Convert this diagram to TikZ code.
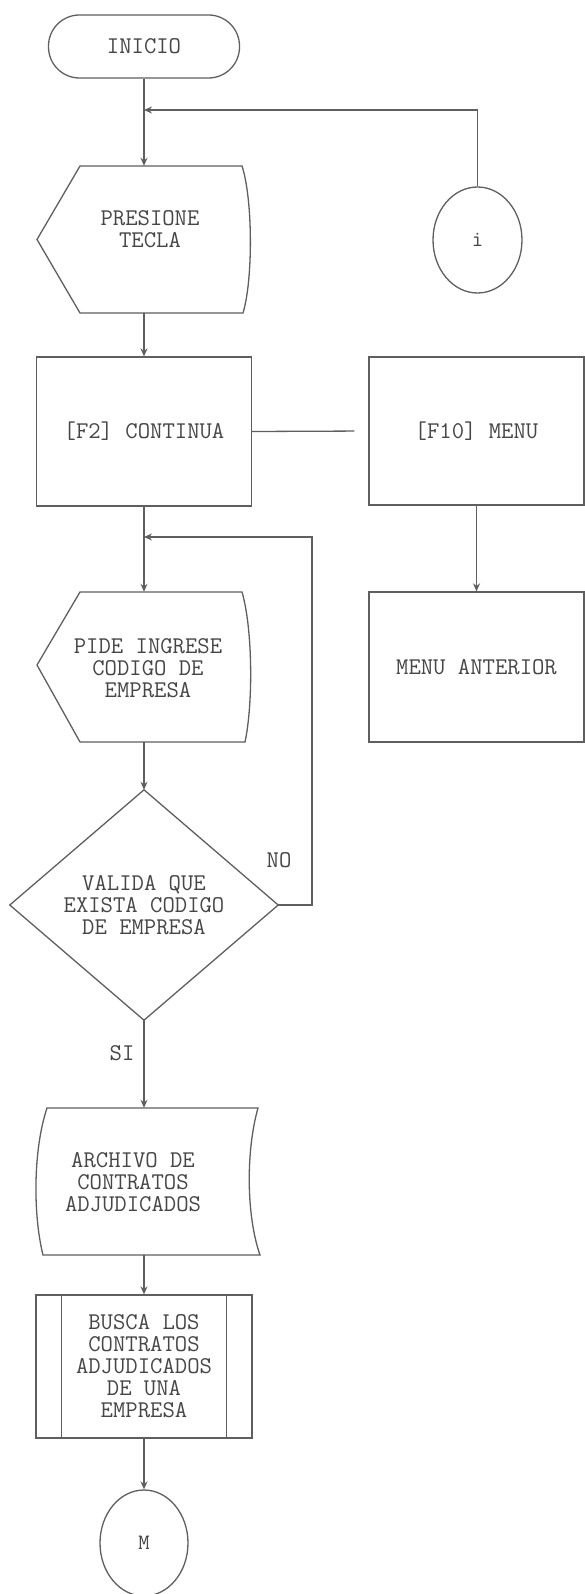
\documentclass[tikz,border=0pt]{standalone}
\usepackage{fontspec}
\newcommand\dotfont{\ttfamily\addfontfeatures{FakeStretch=0.98,FakeBold=2.5}}
\usetikzlibrary{arrows.meta,shapes.geometric}
\definecolor{lc}{RGB}{95,95,95}
\definecolor{tc}{RGB}{70,70,70}
\begin{document}
\begin{tikzpicture}[x=1pt,y=-1pt,
  txt/.style={font=\fontsize{24}{22}\selectfont\dotfont, text=tc, align=center, inner sep=0pt},
  small/.style={font=\fontsize{22}{22}\selectfont\dotfont, text=tc, inner sep=0pt},
  frame/.style={draw=lc, line width=1.3pt},
  ln/.style={draw=lc, line width=1.3pt},
  arr/.style={draw=lc, line width=1.3pt, -{Stealth[length=8pt,width=7pt]}},
  holder/.style={inner sep=0pt, draw=none}]
\useasboundingbox (0,0) rectangle (585,1594);
\fill[white] (0,0) rectangle (585,1594);

% start
\node[txt, frame, rounded corners=31pt, minimum width=191pt, minimum height=63pt] (inicio) at (144,46.5) {INICIO};

% display: presione tecla
\node[holder, minimum width=216pt, minimum height=147pt] (pres) at (144,239.5) {};
\draw[frame] (37,239.5) -- (80,166) -- (242,166) .. controls (253,200) and (253,280) .. (243,313) -- (80,313) -- cycle;
\node[txt] (prest) at (150,229) {PRESIONE\\TECLA};

% connector i
\node[ellipse, frame, small, minimum width=89pt, minimum height=106pt] (ci) at (477.5,240) {i};

% process boxes
\node[txt, frame, minimum width=215pt, minimum height=149pt] (f2) at (144,431.5) {[F2] CONTINUA};
\node[txt, frame, minimum width=215pt, minimum height=148pt] (f10) at (476.5,431) {[F10] MENU};
\node[txt, frame, minimum width=215pt, minimum height=150pt] (menu) at (476.5,667) {MENU ANTERIOR};

% display: pide ingrese
\node[holder, minimum width=216pt, minimum height=150pt] (pide) at (144,667) {};
\draw[frame] (37,665) -- (80,592) -- (242,592) .. controls (253,630) and (253,705) .. (245,742) -- (80,742) -- cycle;
\node[txt] (pidet) at (148,668) {PIDE INGRESE\\CODIGO DE\\EMPRESA};

% decision
\node[txt, minimum width=268pt, minimum height=230pt] (dia) at (144,905) {VALIDA QUE\\EXISTA CODIGO\\DE EMPRESA};
\draw[frame] (dia.north) -- (dia.east) -- (dia.south) -- (dia.west) -- cycle;
\node[txt] (no) at (279,860) {NO};
\node[txt] (si) at (122,1053) {SI};

% stored data
\node[holder, minimum width=214pt, minimum height=147pt] (arch) at (144,1181.5) {};
\draw[frame] (47,1108) -- (258,1108) .. controls (246,1150) and (246,1215) .. (260,1255) -- (43,1255) .. controls (33,1215) and (33,1150) .. (47,1108) -- cycle;
\node[txt] (archt) at (133,1182) {ARCHIVO DE\\CONTRATOS\\ADJUDICADOS};

% predefined process
\node[txt, frame, minimum width=216pt, minimum height=143pt] (busca) at (144,1366.5) {BUSCA LOS\\CONTRATOS\\ADJUDICADOS\\DE UNA\\EMPRESA};
\draw[ln] ([xshift=26pt]busca.north west) -- ([xshift=26pt]busca.south west);
\draw[ln] ([xshift=-26pt]busca.north east) -- ([xshift=-26pt]busca.south east);

% connector M
\node[ellipse, frame, small, minimum width=88pt, minimum height=106pt] (cm) at (144,1543) {M};

% junctions
\coordinate (j1) at (144,110);
\coordinate (j2) at (144,537);
\coordinate (lp) at (312,537);

% connectors
\draw[arr] (inicio.south) -- (pres.north);
\draw[arr] (ci.north) |- (j1);
\draw[arr] (pres.south) -- (f2.north);
\draw[ln, shorten >=14pt] (f2.east) -- (f10.west);
\draw[arr] (f10.south) -- (menu.north);
\draw[arr] (f2.south) -- (pide.north);
\draw[arr] (pide.south) -- (dia.north);
\draw[arr] (dia.east) -| (lp) -- (j2);
\draw[arr] (dia.south) -- (arch.north);
\draw[arr] (arch.south) -- (busca.north);
\draw[arr] (busca.south) -- (cm.north);
\end{tikzpicture}
\end{document}
